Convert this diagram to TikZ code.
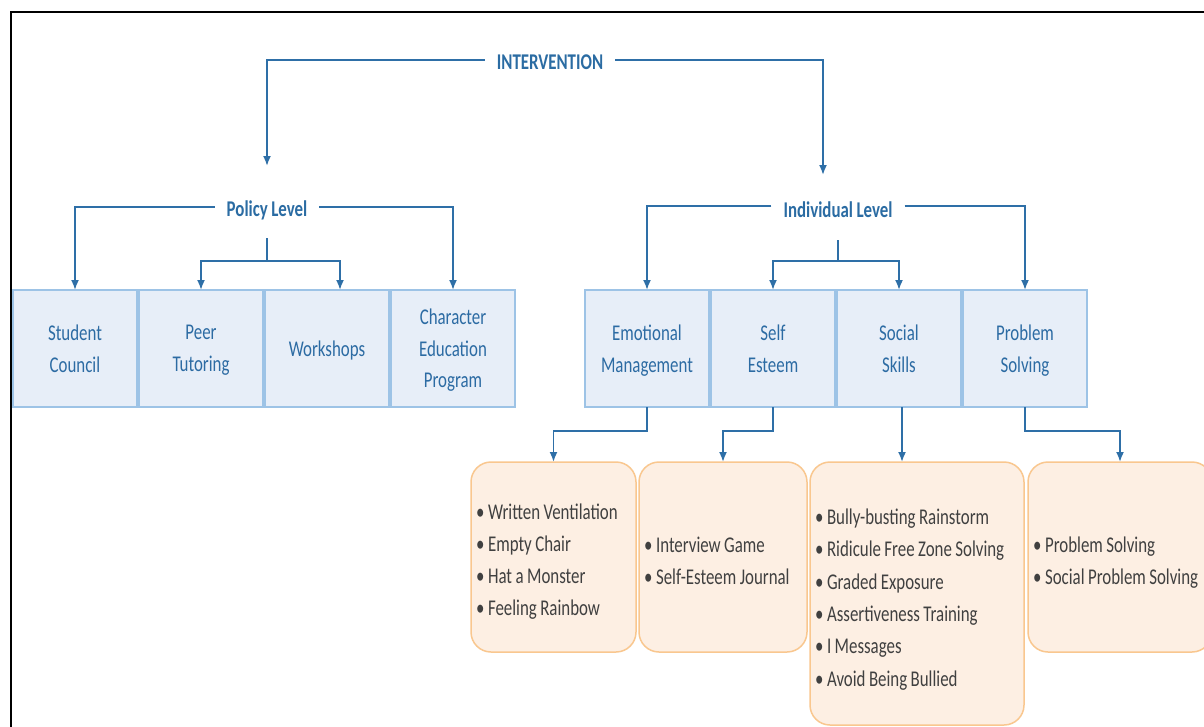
\documentclass[tikz,border=0pt]{standalone}
\usepackage{fontspec}
\setmainfont{Carlito}[FakeStretch=0.75, WordSpace=0.9]
\usetikzlibrary{arrows.meta}
\definecolor{conncol}{HTML}{2E6FA7}
\definecolor{headc}{HTML}{2B6CA3}
\definecolor{bluefill}{HTML}{E7EEF8}
\definecolor{blueline}{HTML}{9DC3E6}
\definecolor{orfill}{HTML}{FDEFE3}
\definecolor{orline}{HTML}{F9C78F}
\definecolor{bultext}{HTML}{404040}
\definecolor{labtext}{HTML}{2C6BA3}
\begin{document}
\begin{tikzpicture}[x=1pt,y=-1pt,
  txt/.style={font=\fontsize{22.5}{31.5}\selectfont},
  head/.style={font=\fontsize{22.5}{31.5}\selectfont\bfseries, text=headc, inner xsep=12pt, inner ysep=0pt},
  bbox/.style={txt, draw=blueline, fill=bluefill, line width=1.5pt, minimum width=124pt, minimum height=117pt, align=center, text=labtext, inner sep=2pt, outer sep=0pt, text depth=0pt},
  obox/.style={draw=orline, fill=orfill, line width=1.5pt, rounded corners=20pt, inner sep=0pt, outer sep=0pt},
  btxt/.style={font=\fontsize{22.5}{32}\selectfont, align=flush left, text=bultext, inner sep=0pt, anchor=west},
  conn/.style={draw=conncol, line width=1.8pt},
  arr/.style={conn, -{Latex[length=10pt,width=8pt]}},
]
\useasboundingbox (0,0) rectangle (1204,726);
\clip (0,0) rectangle (1204,726);
\fill[white] (0,0) rectangle (1204,726);
% frame
\draw[line width=2.5pt, black] (11,780) -- (11,12) -- (1240,12);

% headings
\node[head, anchor=base] (intv) at (550,69) {INTERVENTION};
\node[head, anchor=base] (pol) at (267,216) {Policy Level};
\node[head, anchor=base] (ind) at (838,217) {Individual Level};

% policy boxes
\node[bbox] (sc) at (75,348.5) {Student\\Council};
\node[bbox] (pt) at (201,348.5) {Peer\\Tutoring};
\node[bbox] (ws) at (327,348.5) {Workshops};
\node[bbox] (ce) at (453,348.5) {Character\\Education\\Program};

% individual boxes
\node[bbox] (em) at (647,348.5) {Emotional\\Management};
\node[bbox] (se) at (773,348.5) {Self\\Esteem};
\node[bbox] (ss) at (899,348.5) {Social\\Skills};
\node[bbox] (ps) at (1025,348.5) {Problem\\Solving};

% activity boxes
\node[obox, minimum width=165pt, minimum height=190pt] (b1) at (553.5,557) {};
\node[obox, minimum width=168pt, minimum height=190pt] (b2) at (723,557) {};
\node[obox, minimum width=214pt, minimum height=263pt] (b3) at (917,593.5) {};
\node[obox, minimum width=184pt, minimum height=190pt] (b4) at (1120,557) {};

\node[btxt] (t1) at ([xshift=5pt,yshift=-5pt]b1.west) {• Written Ventilation\\• Empty Chair\\• Hat a Monster\\• Feeling Rainbow};
\node[btxt] (t2) at ([xshift=5pt,yshift=-4pt]b2.west) {• Interview Game\\• Self-Esteem Journal};
\node[btxt, font=\fontsize{22.5}{32.4}\selectfont] (t3) at ([xshift=5pt,yshift=-6pt]b3.west) {• Bully-busting Rainstorm\\• Ridicule Free Zone Solving\\• Graded Exposure\\• Assertiveness Training\\• I Messages\\• Avoid Being Bullied};
\node[btxt] (t4) at ([xshift=5pt,yshift=-6pt]b4.west) {• Problem Solving\\• Social Problem Solving};

% top connectors
\coordinate (polTop) at (267,166);
\coordinate (indTop) at (823,175);
\draw[arr] ([yshift=2pt]intv.west) -| (polTop);
\draw[arr] ([yshift=2pt]intv.east) -| (indTop);

% policy connectors
\draw[arr] ([yshift=3pt]pol.west) -| (sc.north);
\draw[arr] ([yshift=3pt]pol.east) -| (ce.north);
\coordinate (pstub) at (267,238);
\coordinate (pjoin) at (267,261);
\draw[conn] (pstub) -- (pjoin);
\draw[arr] (pjoin) -| (pt.north);
\draw[arr] (pjoin) -| ([xshift=13pt]ws.north);

% individual connectors
\draw[arr] ([yshift=3pt]ind.west) -| (em.north);
\draw[arr] ([yshift=3pt]ind.east) -| (ps.north);
\coordinate (istub) at (838,240);
\coordinate (ijoin) at (838,261);
\draw[conn] (istub) -- (ijoin);
\draw[arr] (ijoin) -| (se.north);
\draw[arr] (ijoin) -| (ss.north);

% activity connectors
\draw[arr] (em.south) -- ++(0,24) -| (b1.north);
\draw[arr] (se.south) -- ++(0,24) -| (b2.north);
\draw[arr] ([xshift=3pt]ss.south) -- ([xshift=3pt]ss.south |- b3.north);
\draw[arr] (ps.south) -- ++(0,24) -| (b4.north);
\end{tikzpicture}
\end{document}
